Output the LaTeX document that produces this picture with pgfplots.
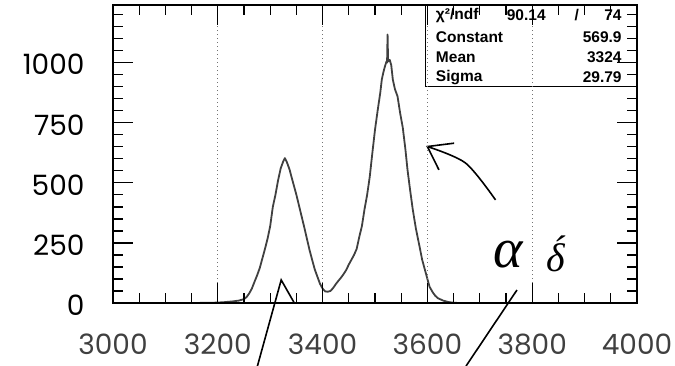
\documentclass[border=0pt]{standalone}
\usepackage{fontspec}
\setmainfont{Poppins}
\newfontfamily\statfont{Liberation Sans}
\newfontfamily\handfont{Liberation Serif}
\usepackage{pgfplots}
\pgfplotsset{compat=1.18}
\begin{document}
\begin{tikzpicture}
\useasboundingbox (0,0) rectangle (675pt,366pt);
\begin{axis}[
  at={(113pt,63pt)}, anchor=south west,
  scale only axis, width=524pt, height=298pt,
  xmin=3000, xmax=4000, ymin=0, ymax=1240,
  clip=false, axis on top,
  axis line style={line width=1.3pt},
  tick align=inside, tick style={line width=1.3pt, black},
  major tick length=20pt, minor tick length=10pt,
  xtick={3000,3200,...,4000}, minor xtick={3050,3100,...,3950},
  ytick={0,250,...,1000}, minor ytick={50,100,...,1200},
  xmajorgrids,
  grid style={black!55, line width=1.1pt, dash pattern=on 1.2pt off 2.8pt},
  /pgf/number format/1000 sep={},
  /pgf/number format/assume math mode=true,
  xticklabel style={font=\fontsize{28}{28}\selectfont, text=black!75, yshift=-27pt},
  yticklabel style={font=\fontsize{28}{28}\selectfont, text=black, xshift=-25pt, yshift=-2pt},
]
\draw[line width=1.3pt, fill=white] (rel axis cs:0.597,0.726) rectangle (rel axis cs:1,1);
\node[anchor=west, inner sep=0pt, font=\statfont\bfseries\fontsize{15.5}{15.5}\selectfont] at (rel axis cs:0.616,0.966) {χ²/ndf};
\node[anchor=west, inner sep=0pt, font=\statfont\bfseries\fontsize{15.5}{15.5}\selectfont] at (rel axis cs:0.616,0.893) {Constant};
\node[anchor=west, inner sep=0pt, font=\statfont\bfseries\fontsize{15.5}{15.5}\selectfont] at (rel axis cs:0.616,0.826) {Mean};
\node[anchor=west, inner sep=0pt, font=\statfont\bfseries\fontsize{15.5}{15.5}\selectfont] at (rel axis cs:0.616,0.758) {Sigma};
\node[anchor=east, inner sep=0pt, font=\statfont\bfseries\fontsize{15.5}{15.5}\selectfont] at (rel axis cs:0.826,0.966) {90.14};
\node[anchor=center, inner sep=0pt, font=\statfont\bfseries\fontsize{15.5}{15.5}\selectfont] at (rel axis cs:0.885,0.966) {/};
\node[anchor=east, inner sep=0pt, font=\statfont\bfseries\fontsize{15.5}{15.5}\selectfont] at (rel axis cs:0.971,0.966) {74};
\node[anchor=east, inner sep=0pt, font=\statfont\bfseries\fontsize{15.5}{15.5}\selectfont] at (rel axis cs:0.971,0.893) {569.9};
\node[anchor=east, inner sep=0pt, font=\statfont\bfseries\fontsize{15.5}{15.5}\selectfont] at (rel axis cs:0.971,0.826) {3324};
\node[anchor=east, inner sep=0pt, font=\statfont\bfseries\fontsize{15.5}{15.5}\selectfont] at (rel axis cs:0.971,0.758) {29.79};
% histogram
\addplot[black!75, line width=1.8pt, line join=round] coordinates {
(3000,0) (3150,0) (3190,1) (3200,2) (3210,3) (3220,5) (3230,7) (3240,10)
(3250,16) (3255,25) (3260,40) (3265,60) (3270,88) (3275,115) (3280,145)
(3285,185) (3290,225) (3295,268) (3300,320) (3305,400) (3310,450) (3315,510)
(3320,560) (3325,590) (3328,603) (3332,585) (3337,555) (3340,530) (3345,490)
(3350,450) (3355,405) (3360,360) (3365,315) (3370,268) (3375,221) (3380,180)
(3385,140) (3390,110) (3395,80) (3400,60) (3405,48) (3410,47) (3415,50)
(3420,62) (3425,78) (3430,92) (3435,105) (3440,120) (3445,137) (3450,160)
(3455,180) (3460,200) (3465,225) (3470,275) (3475,320) (3480,390) (3485,450)
(3490,526) (3495,625) (3500,721) (3505,800) (3510,874) (3513,930) (3516,960)
(3519,985) (3522,1005) (3523,1000) (3524,1117) (3525,1005) (3528,1012)
(3531,990) (3534,930) (3538,890) (3543,860) (3548,790) (3553,730) (3558,640)
(3562,555) (3567,470) (3572,390) (3578,310) (3585,235) (3590,180) (3597,124)
(3600,100) (3604,68) (3610,45) (3615,30) (3620,20) (3630,10) (3640,4)
(3650,1) (3660,0) (4000,0)
};
% handwritten annotations
\addplot[black, line width=1.6pt] coordinates {(3275.6,-262.5) (3321,96) (3346,0)};
\addplot[black, line width=1.6pt] coordinates {(3673.7,-262.5) (3770.9,54)};
\addplot[black, line width=1.6pt, smooth] coordinates {(3730,429) (3673,582) (3600,651)};
\addplot[black, line width=1.6pt] coordinates {(3651,665) (3600,651) (3622,554)};
\node[inner sep=0pt, font=\handfont\itshape\fontsize{56}{56}\selectfont] at (axis cs:3755,200) {α};
\node[inner sep=0pt, font=\handfont\itshape\fontsize{40}{40}\selectfont] at (axis cs:3845,205) {\'{δ}};
\end{axis}
\end{tikzpicture}
\end{document}
